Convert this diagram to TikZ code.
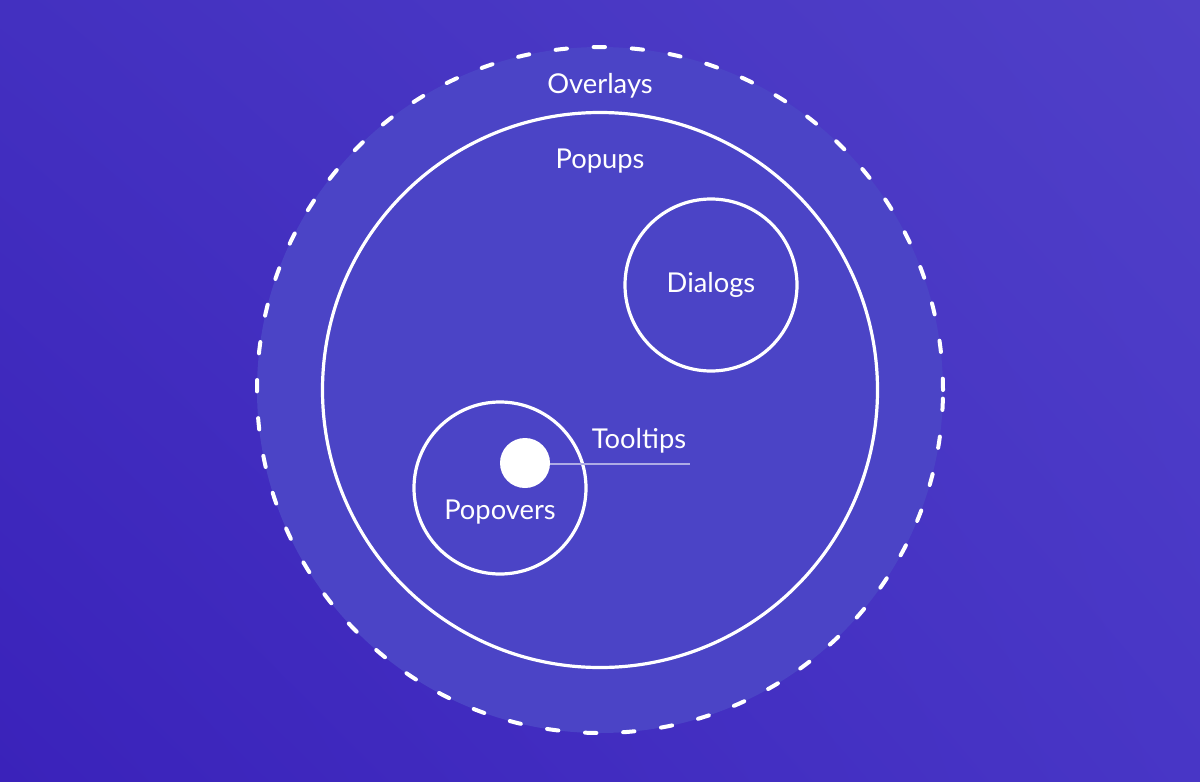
\documentclass[tikz,border=0pt]{standalone}
\usepackage{fontspec}
\setmainfont{Lato}
\usepackage{xcolor}
\usepackage{tikz}
\usetikzlibrary{positioning, calc, backgrounds, shadings}
\definecolor{bgtl}{HTML}{4330C0}
\definecolor{bgtr}{HTML}{5040C8}
\definecolor{bgbl}{HTML}{3A22BA}
\definecolor{bgbr}{HTML}{4836C6}
\definecolor{disk}{HTML}{4B44C6}

\begin{document}
\begin{tikzpicture}[
  x=0.75pt, y=-0.75pt,
  outer/.style={circle, draw=white, fill=disk, line width=3pt, line cap=round,
                dash pattern=on 8.5pt off 20.1pt, minimum size=514.5pt, inner sep=0pt},
  ring/.style={circle, draw=white, line width=2.4pt, minimum size=129pt,
               inner sep=0pt},
  lbl/.style={text=white, font=\fontsize{20.5}{24}\selectfont, inner sep=0pt},
  dot/.style={circle, fill=white, minimum size=37.5pt, inner sep=0pt},
  tipline/.style={draw=white!55!disk, line width=1.5pt},
]
\useasboundingbox (0,0) rectangle (1200,782);
\shade[upper left=bgtl, upper right=bgtr, lower left=bgbl, lower right=bgbr]
  (0,0) rectangle (1200,782);

% nested sets
\node[outer] (overlays) at (600,390) {};
\node[ring, minimum size=416.25pt] (popups) at (600,390) {};
\node[ring] (dialogs) at (711,285) {};
\node[ring] (popovers) at (500,488) {};

\node[lbl] (overlaystxt) at (600,86) {Overlays};
\node[lbl] (popupstxt) at (600,161) {Popups};
\node[lbl] at (dialogs) {Dialogs};
\node[lbl] (popoverstxt) at (500,512) {Popovers};

% tooltip marker
\coordinate (tipend) at (690,464);
\draw[tipline] (525,464) -- (tipend);
\node[dot] (tooltip) at (525,463) {};
\node[lbl] (tooltipstxt) at (639,441) {Tooltips};
\end{tikzpicture}
\end{document}
